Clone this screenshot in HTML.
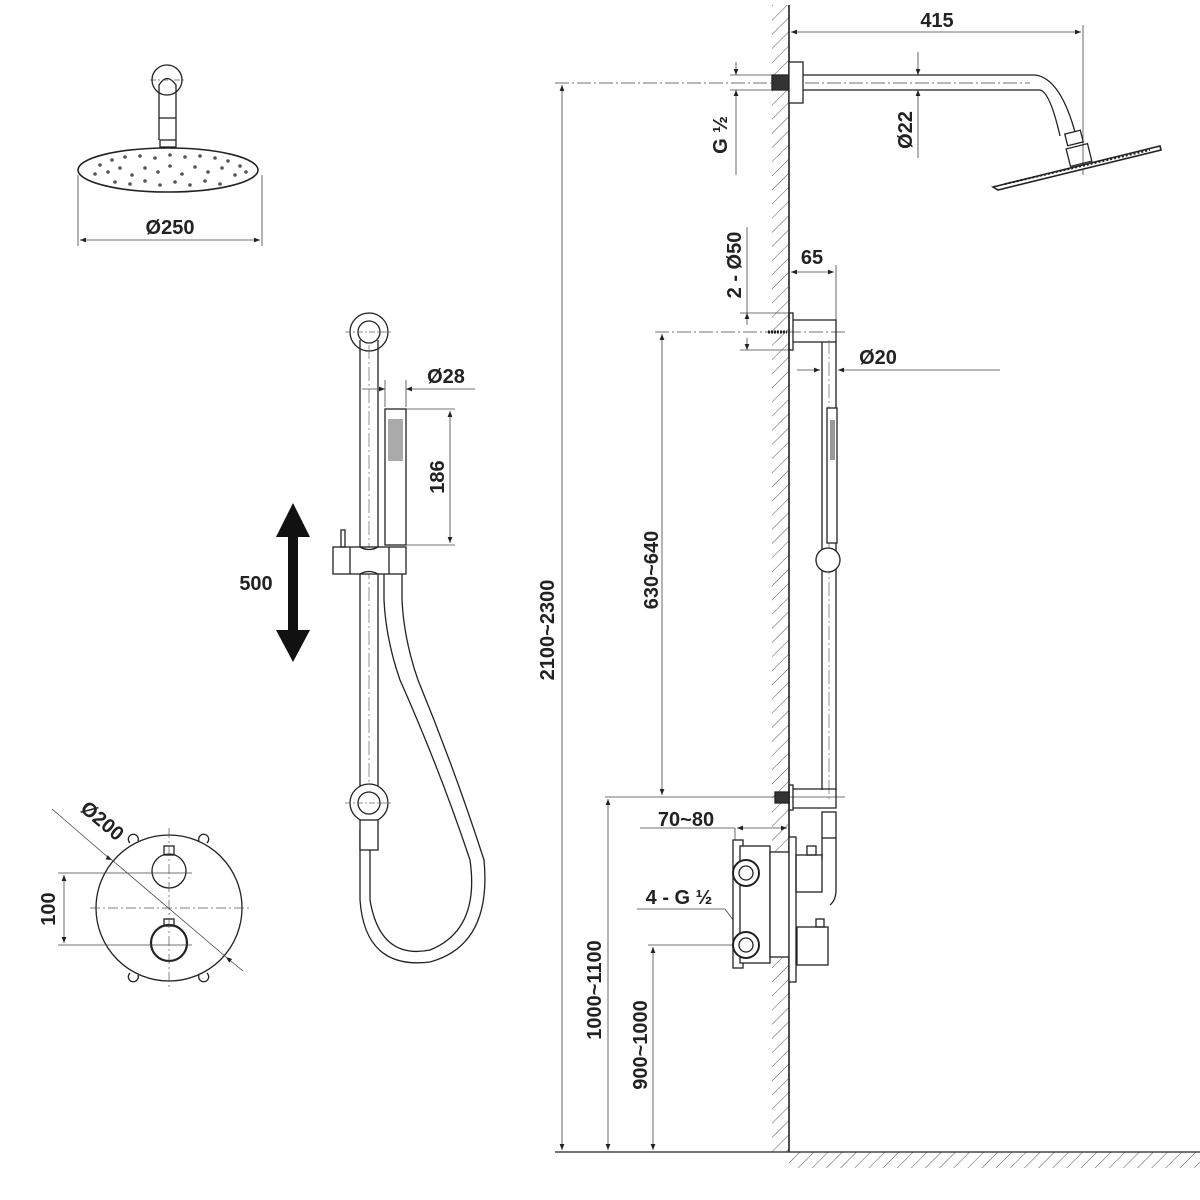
<!DOCTYPE html>
<html><head><meta charset="utf-8"><style>
html,body{margin:0;padding:0;background:#fff}
svg{display:block}
text{font-family:"Liberation Sans",sans-serif;font-size:20px;font-weight:bold;fill:#222}
</style></head><body>
<svg width="1200" height="1200" viewBox="0 0 1200 1200" xmlns="http://www.w3.org/2000/svg">
<defs>
<pattern id="h" width="10" height="10" patternUnits="userSpaceOnUse" patternTransform="rotate(45)">
<line x1="0" y1="0" x2="0" y2="10" stroke="#555" stroke-width="1"/>
</pattern>
<marker id="a" viewBox="0 0 10 10" refX="10" refY="5" markerWidth="10" markerHeight="6" orient="auto-start-reverse" markerUnits="userSpaceOnUse">
<path d="M0,1 L10,5 L0,9 z" fill="#222"/></marker>
</defs>
<g stroke="#222" fill="none" stroke-width="1.3">
<!-- wall -->
<rect x="772" y="5" width="17" height="1147" fill="url(#h)" stroke="none"/>
<rect x="789" y="1152" width="411" height="16" fill="url(#h)" stroke="none"/>
<line x1="789" y1="5" x2="789" y2="1152" stroke-width="1.6"/>
<line x1="555" y1="1152" x2="1200" y2="1152" stroke-width="1.3"/>
</g>
<g stroke="#444" fill="none" stroke-width="0.8">
<!-- dim lines -->
<line x1="1083" y1="25" x2="1083" y2="175"/>
<line x1="791" y1="32" x2="1081" y2="32" marker-start="url(#a)" marker-end="url(#a)"/>
<line x1="918" y1="52" x2="918" y2="75" marker-end="url(#a)"/>
<line x1="918" y1="158" x2="918" y2="90" marker-end="url(#a)"/>
<line x1="730" y1="75" x2="772" y2="75"/><line x1="730" y1="90" x2="772" y2="90"/>
<line x1="736" y1="62" x2="736" y2="75" marker-end="url(#a)"/>
<line x1="736" y1="175" x2="736" y2="90" marker-end="url(#a)"/>
<line x1="555" y1="83" x2="772" y2="83" stroke-dasharray="14,3,2,3"/>
<line x1="805" y1="83" x2="1030" y2="83" stroke-dasharray="14,3,2,3"/>
<line x1="836" y1="265" x2="836" y2="330"/>
<line x1="791" y1="272" x2="834" y2="272" marker-start="url(#a)" marker-end="url(#a)"/>
<line x1="740" y1="313" x2="789" y2="313"/><line x1="740" y1="350" x2="789" y2="350"/>
<line x1="747" y1="227" x2="747" y2="313" />
<line x1="747" y1="325" x2="747" y2="313" marker-end="url(#a)"/>
<line x1="747" y1="338" x2="747" y2="350" marker-end="url(#a)"/>
<line x1="655" y1="332" x2="845" y2="332" stroke-dasharray="14,3,2,3"/>
<line x1="797" y1="370" x2="820" y2="370" marker-end="url(#a)"/>
<line x1="1000" y1="370" x2="838" y2="370" marker-end="url(#a)"/>
<line x1="662" y1="334" x2="662" y2="795" marker-start="url(#a)" marker-end="url(#a)"/>
<line x1="605" y1="797" x2="845" y2="797"/>
<line x1="735" y1="828" x2="735" y2="845"/>
<line x1="640" y1="828" x2="735" y2="828"/>
<line x1="737" y1="828" x2="787" y2="828" marker-start="url(#a)" marker-end="url(#a)"/>
<line x1="562" y1="85" x2="562" y2="1150" marker-start="url(#a)" marker-end="url(#a)"/>
<line x1="608" y1="799" x2="608" y2="1150" marker-start="url(#a)" marker-end="url(#a)"/>
<line x1="648" y1="945" x2="735" y2="945"/>
<line x1="653" y1="947" x2="653" y2="1150" marker-start="url(#a)" marker-end="url(#a)"/>
<line x1="637" y1="909" x2="725" y2="909"/>
<line x1="725" y1="909" x2="742" y2="932" marker-end="url(#a)"/>
</g>
<g stroke="#222" fill="none" stroke-width="1.3">
<!-- shower arm -->
<rect x="772" y="75" width="17" height="15" fill="#333"/>
<rect x="789" y="62" width="14" height="41" fill="#fff"/>
<path d="M803,75 H1035 Q1060,78 1075,132 M803,90 H1040 Q1050,92 1060,136"/>
<rect x="1066" y="132" width="16" height="12" transform="rotate(-14 1074 138)"/>
<rect x="1068" y="146" width="22" height="18" transform="rotate(-14 1079 155)"/>
<path d="M993,187 L1160,146 L1161,150 L998,190 Z" fill="#fff" stroke-width="1.6"/>
<line x1="1005" y1="184" x2="1150" y2="150" stroke-dasharray="2,2" stroke-width="2"/>
<!-- upper bracket -->
<rect x="789" y="313" width="4" height="37"/>
<path d="M793,320 H836 V342 H793"/>
<path d="M768,332 L787,332" stroke-width="3" stroke-dasharray="2,1"/>
<path d="M822,342 V790 M836,342 V790"/>
<line x1="829" y1="340" x2="829" y2="800" stroke="#666" stroke-width="0.7" stroke-dasharray="14,3,2,3"/>
<rect x="827" y="408" width="10" height="135" fill="#fff"/>
<rect x="830" y="420" width="5" height="40" fill="#999" stroke="none"/>
<circle cx="828" cy="560" r="12" fill="#fff"/>
<!-- lower bracket -->
<rect x="775" y="792" width="14" height="11" fill="#333"/>
<rect x="789" y="785" width="4" height="25"/>
<path d="M793,789 H836 V808 H793"/>
<rect x="822" y="812" width="14" height="26" fill="#fff"/>
<path d="M822,838 V860 M836,838 V890 Q836,900 830,905"/>
<!-- mixer -->
<rect x="733" y="840" width="10" height="128" fill="#fff"/>
<rect x="740" y="846" width="30" height="117" fill="#fff"/>
<rect x="770" y="852" width="19" height="105" fill="#fff"/>
<circle cx="746" cy="873" r="13" stroke-width="2" fill="#fff"/><circle cx="746" cy="873" r="7"/>
<circle cx="746" cy="945" r="13" stroke-width="2" fill="#fff"/><circle cx="746" cy="945" r="7"/>
<rect x="789" y="837" width="7" height="145" fill="#fff"/>
<rect x="796" y="855" width="26" height="37"/>
<rect x="807" y="846" width="9" height="9"/>
<rect x="797" y="927" width="31" height="38"/>
<rect x="816" y="919" width="8" height="8"/>
</g>
<g stroke="#222" fill="none" stroke-width="1.3">
<!-- left head -->
<circle cx="167" cy="80" r="15"/>
<path d="M159,140 V85 Q167,72 176,85 V140"/>
<line x1="150" y1="80" x2="186" y2="80" stroke="#555" stroke-width="0.7" stroke-dasharray="6,2,2,2"/>
<line x1="159" y1="118" x2="176" y2="118"/>
<rect x="160" y="140" width="16" height="7"/>
<ellipse cx="168" cy="170" rx="90" ry="22" fill="#fff" stroke-width="1.6"/>
<line x1="78" y1="175" x2="78" y2="246" stroke="#444" stroke-width="0.8"/>
<line x1="262" y1="175" x2="262" y2="246" stroke="#444" stroke-width="0.8"/>
<line x1="80" y1="240" x2="260" y2="240" stroke="#444" stroke-width="0.8" marker-start="url(#a)" marker-end="url(#a)"/>
</g>
<g fill="#555">
<circle cx="100" cy="165" r="1.8"/><circle cx="112" cy="160" r="1.8"/><circle cx="125" cy="157" r="1.8"/><circle cx="140" cy="156" r="1.8"/><circle cx="155" cy="158" r="1.8"/><circle cx="170" cy="155" r="1.8"/><circle cx="185" cy="157" r="1.8"/><circle cx="200" cy="156" r="1.8"/><circle cx="215" cy="158" r="1.8"/><circle cx="228" cy="161" r="1.8"/><circle cx="240" cy="166" r="1.8"/>
<circle cx="95" cy="174" r="1.8"/><circle cx="108" cy="172" r="1.8"/><circle cx="120" cy="168" r="1.8"/><circle cx="132" cy="175" r="1.8"/><circle cx="145" cy="168" r="1.8"/><circle cx="158" cy="172" r="1.8"/><circle cx="170" cy="166" r="1.8"/><circle cx="182" cy="174" r="1.8"/><circle cx="195" cy="167" r="1.8"/><circle cx="208" cy="172" r="1.8"/><circle cx="222" cy="168" r="1.8"/><circle cx="235" cy="175" r="1.8"/><circle cx="246" cy="172" r="1.8"/>
<circle cx="115" cy="182" r="1.8"/><circle cx="130" cy="184" r="1.8"/><circle cx="145" cy="181" r="1.8"/><circle cx="160" cy="185" r="1.8"/><circle cx="175" cy="182" r="1.8"/><circle cx="190" cy="185" r="1.8"/><circle cx="205" cy="181" r="1.8"/><circle cx="220" cy="184" r="1.8"/>
</g>
<g stroke="#222" fill="none" stroke-width="1.3">
<!-- slide rail -->
<circle cx="369" cy="332" r="19"/><circle cx="369" cy="332" r="11"/>
<path d="M360,340 V790 M378,340 V790"/>
<line x1="369" y1="345" x2="369" y2="790" stroke="#666" stroke-width="0.7" stroke-dasharray="14,3,2,3"/>
<line x1="345" y1="332" x2="392" y2="332" stroke="#666" stroke-width="0.7" stroke-dasharray="6,2,2,2"/>
<rect x="385" y="409" width="21" height="136" fill="#fff"/>
<rect x="388" y="419" width="15" height="42" fill="#aaa" stroke="none"/>
<rect x="333" y="547" width="73" height="27" fill="#fff"/>
<line x1="350" y1="547" x2="350" y2="574"/><line x1="389" y1="547" x2="389" y2="574"/>
<path d="M360,547 Q369,552 378,547 M360,574 Q369,569 378,574" />
<rect x="341" y="530" width="4" height="17"/>
<path d="M384,574 V600 Q386,640 400,680 Q440,770 470,860 Q480,930 430,950 Q380,960 370,900 V830 M402,574 V600 Q404,640 418,680 Q455,770 484,860 Q492,945 430,962 Q365,970 360,900 V830"/>
<circle cx="369" cy="803" r="19" fill="#fff"/><circle cx="369" cy="803" r="11"/>
<line x1="345" y1="803" x2="392" y2="803" stroke="#666" stroke-width="0.7" stroke-dasharray="6,2,2,2"/>
<rect x="360" y="820" width="18" height="30" fill="#fff"/>
<line x1="406" y1="380" x2="406" y2="407" stroke="#444" stroke-width="0.8"/>
<line x1="385" y1="380" x2="385" y2="407" stroke="#444" stroke-width="0.8"/>
<line x1="362" y1="389" x2="385" y2="389" stroke="#444" stroke-width="0.8" marker-end="url(#a)"/>
<line x1="475" y1="389" x2="406" y2="389" stroke="#444" stroke-width="0.8" marker-end="url(#a)"/>
<line x1="406" y1="409" x2="455" y2="409" stroke="#444" stroke-width="0.8"/>
<line x1="406" y1="545" x2="455" y2="545" stroke="#444" stroke-width="0.8"/>
<line x1="450" y1="411" x2="450" y2="543" stroke="#444" stroke-width="0.8" marker-start="url(#a)" marker-end="url(#a)"/>
</g>
<!-- big arrow -->
<path d="M293,503 L310,537 L298,537 L298,630 L310,630 L293,662 L276,630 L288,630 L288,537 L276,537 Z" fill="#111"/>
<g stroke="#222" fill="none" stroke-width="1.3">
<!-- mixer front -->
<circle cx="169" cy="908" r="73"/>
<circle cx="169" cy="871" r="17"/><rect x="164" y="846" width="10" height="9"/>
<circle cx="169" cy="943" r="18" stroke-width="2.2"/><rect x="164" y="919" width="10" height="7"/>
<path d="M130,843 a5,5 0 1,1 8,-2 M199,841 a5,5 0 1,1 8,2 M130,973 a5,5 0 1,0 8,2 M199,975 a5,5 0 1,0 8,-2"/>
<g stroke="#555" stroke-width="0.7" stroke-dasharray="10,3,2,3">
<line x1="90" y1="908" x2="252" y2="908"/><line x1="169" y1="828" x2="169" y2="990"/>
</g>
<g stroke="#444" stroke-width="0.8">
<line x1="58" y1="873" x2="192" y2="873"/><line x1="58" y1="945" x2="192" y2="945"/>
<line x1="64" y1="875" x2="64" y2="943" marker-start="url(#a)" marker-end="url(#a)"/>
<line x1="52" y1="809" x2="110" y2="859" /><line x1="110" y1="859" x2="112" y2="860" marker-end="url(#a)"/>
<line x1="112" y1="860" x2="226" y2="957"/>
<line x1="243" y1="971" x2="226" y2="957" marker-end="url(#a)"/>
</g>
</g>
<!-- texts -->
<text x="937" y="27" text-anchor="middle">415</text>
<text x="812" y="264" text-anchor="middle">65</text>
<text x="878" y="364" text-anchor="middle">Ø20</text>
<text x="686" y="826" text-anchor="middle">70~80</text>
<text x="679" y="904" text-anchor="middle">4 - G ½</text>
<text x="170" y="234" text-anchor="middle">Ø250</text>
<text x="446" y="383" text-anchor="middle">Ø28</text>
<text x="256" y="590" text-anchor="middle">500</text>
<text transform="translate(727,135) rotate(-90)" text-anchor="middle">G ½</text>
<text transform="translate(912,130) rotate(-90)" text-anchor="middle">Ø22</text>
<text transform="translate(741,265) rotate(-90)" text-anchor="middle">2 - Ø50</text>
<text transform="translate(444,477) rotate(-90)" text-anchor="middle">186</text>
<text transform="translate(658,570) rotate(-90)" text-anchor="middle">630~640</text>
<text transform="translate(554,630) rotate(-90)" text-anchor="middle">2100~2300</text>
<text transform="translate(601,990) rotate(-90)" text-anchor="middle">1000~1100</text>
<text transform="translate(647,1045) rotate(-90)" text-anchor="middle">900~1000</text>
<text transform="translate(55,909) rotate(-90)" text-anchor="middle">100</text>
<text transform="translate(98,826) rotate(40)" text-anchor="middle">Ø200</text>
</svg>
</body></html>
